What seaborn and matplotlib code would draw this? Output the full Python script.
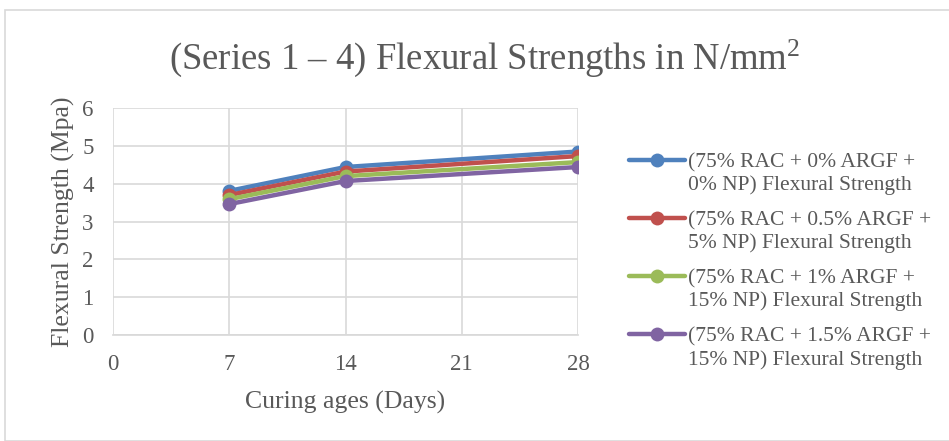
import matplotlib
matplotlib.use("Agg")
import matplotlib.pyplot as plt
import seaborn as sns
import pandas as pd
from matplotlib.patches import Rectangle

days = [7, 14, 28]
series_names = [
    "(75% RAC + 0% ARGF +\n0% NP) Flexural Strength",
    "(75% RAC + 0.5% ARGF +\n5% NP) Flexural Strength",
    "(75% RAC + 1% ARGF +\n15% NP) Flexural Strength",
    "(75% RAC + 1.5% ARGF +\n15% NP) Flexural Strength",
]
s1 = [3.81, 4.44, 4.85]
s2 = [3.70, 4.32, 4.73]
s3 = [3.59, 4.20, 4.57]
s4 = [3.46, 4.07, 4.44]
x_ticks = [0, 7, 14, 21, 28]
y_ticks = [0, 1, 2, 3, 4, 5, 6]
colors = ["#4F81BD", "#C0504D", "#9BBB59", "#8064A2"]

rows = []
for name, vals in zip(series_names, [s1, s2, s3, s4]):
    for d, v in zip(days, vals):
        rows.append({"Days": d, "Strength": v, "Series": name})
df = pd.DataFrame(rows)

sns.set_theme(style="white")
plt.rcParams["font.family"] = ["Liberation Serif", "DejaVu Serif"]
plt.rcParams["mathtext.fontset"] = "custom"
plt.rcParams["mathtext.rm"] = "Liberation Serif"
plt.rcParams["mathtext.it"] = "Liberation Serif:italic"
plt.rcParams["mathtext.bf"] = "Liberation Serif:bold"
txt = "#595959"

W, H = 949, 441
fig = plt.figure(figsize=(W / 100, H / 100), dpi=100)
fig.patches.append(Rectangle((5 / W, 0), 1, 1 - 10 / H, transform=fig.transFigure,
                             fill=False, edgecolor="#D9D9D9", linewidth=1.2))
ax = fig.add_axes([113 / W, 1 - 335 / H, (578 - 113) / W, (335 - 108) / H])

sns.lineplot(data=df, x="Days", y="Strength", hue="Series", palette=colors,
             marker="o", markersize=10, linewidth=3.2, markeredgewidth=0,
             ax=ax, legend=True)

ax.set_xlim(0, 28)
ax.set_ylim(0, 6)
ax.set_xticks(x_ticks)
ax.set_yticks(y_ticks)
ax.grid(True, color="#D9D9D9", linewidth=1.2)
ax.set_axisbelow(True)
for s in ["top", "right", "left"]:
    ax.spines[s].set_visible(False)
ax.spines["bottom"].set_color("#D9D9D9")
ax.tick_params(axis="x", length=0, labelsize=16.5, colors=txt, pad=14)
ax.tick_params(axis="y", length=0, labelsize=16.5, colors=txt, pad=14)
ax.set_xlabel("Curing ages (Days)", fontsize=18.5, color=txt, labelpad=11)
ax.set_ylabel("Flexural Strength (Mpa)", fontsize=18.5, color=txt, labelpad=5)
fig.text(485 / W, 1 - 58 / H, "(Series 1 – 4) Flexural Strengths in N/mm$\\mathregular{^{2}}$",
         ha="center", va="center", fontsize=26.5, color=txt)

handles, labels = ax.get_legend_handles_labels()
leg = ax.legend(handles, labels, loc="upper left", bbox_to_anchor=(610 / W, 1 - 134 / H),
                bbox_transform=fig.transFigure, frameon=False, fontsize=15.5,
                labelspacing=0.75, handlelength=2.6, handletextpad=0.1, labelcolor=txt)
for h in leg.legend_handles:
    h.set_ydata([v + 10 for v in h.get_ydata()])
    h.set_markersize(10)

fig.savefig("out.png", dpi=100)
